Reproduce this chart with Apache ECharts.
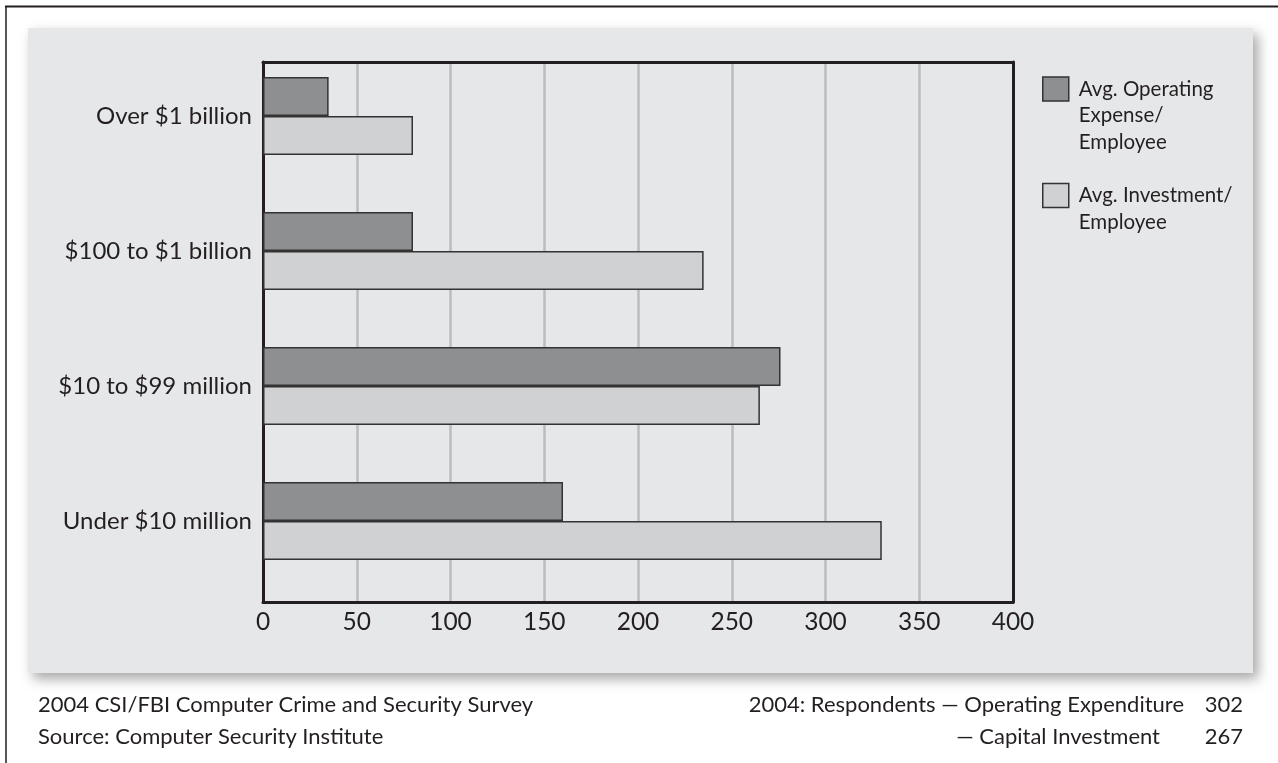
<!DOCTYPE html>
<html>
<head>
<meta charset="utf-8">
<script src="https://cdn.jsdelivr.net/npm/echarts@6/dist/echarts.min.js"></script>
<style>
html,body{margin:0;padding:0;background:#fff;}
#chart{width:1278px;height:763px;}
</style>
</head>
<body>
<div id="chart"></div>
<script>
// ---- data ----
const categories = ['Over $1 billion', '$100 to $1 billion', '$10 to $99 million', 'Under $10 million'];
const seriesNames = ['Avg. Operating Expense/Employee', 'Avg. Investment/Employee'];
const legendLines = [['Avg. Operating', 'Expense/', 'Employee'], ['Avg. Investment/', 'Employee']];
const operatingExpense = [35, 80, 276, 160];
const investment = [80, 235, 265, 330];
const xTicks = { min: 0, max: 400, interval: 50 };
const footerLeft = ['2004 CSI/FBI Computer Crime and Security Survey', 'Source: Computer Security Institute'];
const footerRight = ['2004: Respondents \u2014 Operating Expenditure', '\u2014 Capital Investment'];
const footerNumbers = ['302', '267'];

const FONT = 'Lato, "Open Sans", sans-serif';
const INK = '#231f20';

const chart = echarts.init(document.getElementById('chart'), null, { renderer: 'canvas' });

// blank leading lines keep the square beside the first text line
function legendFor(i, top) {
  const lines = legendLines[i];
  const blanks = new Array(lines.length - 1).fill('');
  return {
    show: true,
    orient: 'vertical',
    left: 1042,
    top: top,
    padding: 0,
    itemWidth: 26,
    itemHeight: 24,
    icon: 'rect',
    selectedMode: false,
    data: [seriesNames[i]],
    formatter: function () { return blanks.concat(lines).join('\n'); },
    itemStyle: { borderColor: '#333', borderWidth: 1.5 },
    textStyle: { fontFamily: FONT, fontSize: 20.5, color: INK, lineHeight: 26.5, padding: [0, 0, 0, 5] }
  };
}

const frameLine = { show: true, onZero: false, lineStyle: { color: INK, width: 3 } };

const option = {
  backgroundColor: '#ffffff',
  animation: false,
  graphic: [
    { type: 'rect', z: -10, shape: { x: 28, y: 28, width: 1225, height: 645 },
      style: { fill: '#e6e7e9', shadowBlur: 12, shadowOffsetX: 5, shadowOffsetY: 6, shadowColor: 'rgba(0,0,0,0.35)' } },
    { type: 'line', z: 10, shape: { x1: 5, y1: 6.5, x2: 1278, y2: 6.5 }, style: { stroke: INK, lineWidth: 2 } },
    { type: 'line', z: 10, shape: { x1: 6, y1: 6, x2: 6, y2: 763 }, style: { stroke: INK, lineWidth: 1.5 } },
    { type: 'text', z: 10, x: 38, y: 705, style: { text: footerLeft[0], font: '22px ' + FONT, fill: INK, verticalAlign: 'middle', align: 'left' } },
    { type: 'text', z: 10, x: 38, y: 737, style: { text: footerLeft[1], font: '22px ' + FONT, fill: INK, verticalAlign: 'middle', align: 'left' } },
    { type: 'text', z: 10, x: 1184, y: 705, style: { text: footerRight[0], font: '22px ' + FONT, fill: INK, verticalAlign: 'middle', align: 'right' } },
    { type: 'text', z: 10, x: 1160, y: 737, style: { text: footerRight[1], font: '22px ' + FONT, fill: INK, verticalAlign: 'middle', align: 'right' } },
    { type: 'text', z: 10, x: 1243, y: 705, style: { text: footerNumbers[0], font: '22px ' + FONT, fill: INK, verticalAlign: 'middle', align: 'right' } },
    { type: 'text', z: 10, x: 1243, y: 737, style: { text: footerNumbers[1], font: '22px ' + FONT, fill: INK, verticalAlign: 'middle', align: 'right' } }
  ],
  legend: [legendFor(0, 89 - 2.5 * 26.5), legendFor(1, 195.5 - 1.5 * 26.5)],
  grid: [
    { left: 263, top: 62, width: 750, height: 540, show: false, containLabel: false },
    { left: 263, top: 48.5, width: 750, height: 540, show: false, containLabel: false }
  ],
  xAxis: [
    { gridIndex: 0, type: 'value', min: xTicks.min, max: xTicks.max, interval: xTicks.interval,
      position: 'bottom', axisLine: frameLine, axisTick: { show: false },
      splitLine: { show: true, showMinLine: false, showMaxLine: false, lineStyle: { color: '#bbbcbe', width: 2.5 } },
      axisLabel: { fontFamily: FONT, fontSize: 24.5, color: INK, margin: 8 } },
    { gridIndex: 1, type: 'value', min: xTicks.min, max: xTicks.max, show: false },
    { gridIndex: 0, type: 'value', min: xTicks.min, max: xTicks.max, position: 'top',
      axisLine: frameLine, axisTick: { show: false }, axisLabel: { show: false }, splitLine: { show: false } }
  ],
  yAxis: [
    { gridIndex: 0, type: 'value', min: 0, max: 1, position: 'left',
      axisLine: frameLine, axisTick: { show: false }, axisLabel: { show: false }, splitLine: { show: false } },
    { gridIndex: 1, type: 'category', inverse: true, data: categories,
      axisLine: { show: false }, axisTick: { show: false }, splitLine: { show: false },
      axisLabel: { fontFamily: FONT, fontSize: 24, color: INK, margin: 11 } },
    { gridIndex: 0, type: 'value', min: 0, max: 1, position: 'right',
      axisLine: frameLine, axisTick: { show: false }, axisLabel: { show: false }, splitLine: { show: false } }
  ],
  series: [
    { name: seriesNames[0], type: 'bar', xAxisIndex: 1, yAxisIndex: 1, data: operatingExpense,
      barWidth: 39, barGap: '0%',
      itemStyle: { color: '#8e8f91', borderColor: '#333', borderWidth: 1.5 } },
    { name: seriesNames[1], type: 'bar', xAxisIndex: 1, yAxisIndex: 1, data: investment,
      barWidth: 39, barGap: '0%',
      itemStyle: { color: '#d0d1d3', borderColor: '#333', borderWidth: 1.5 } }
  ]
};
chart.setOption(option);
</script>
</body>
</html>
